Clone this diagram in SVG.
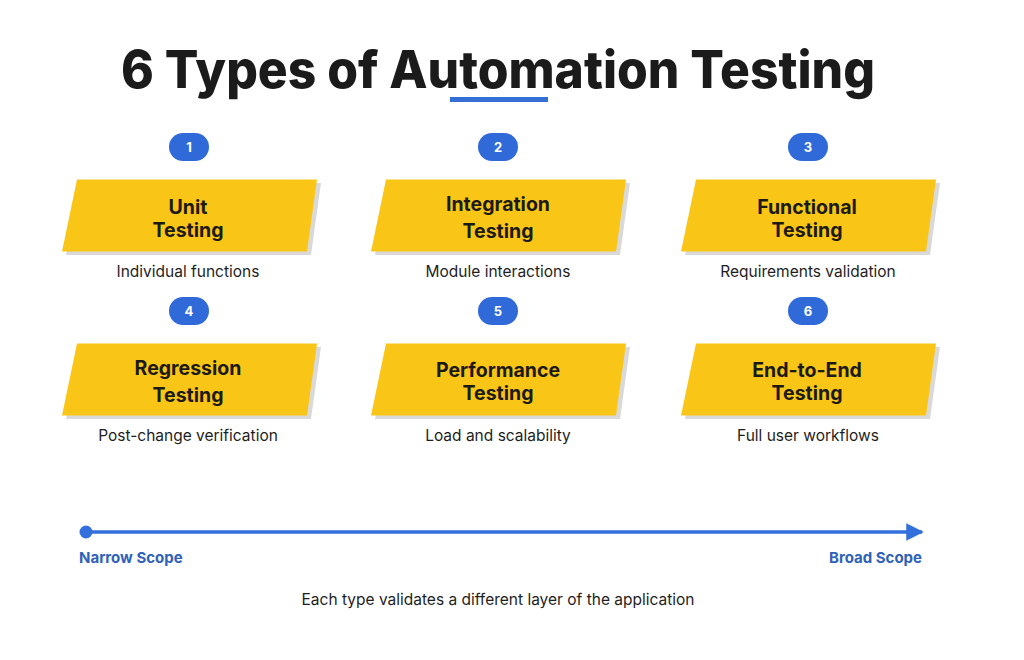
<svg xmlns="http://www.w3.org/2000/svg" width="1024" height="660" viewBox="0 0 1024 660">
  <style>
    .title { font-family: Inter, "Open Sans", "Liberation Sans", sans-serif; font-weight: 800; font-size: 52px; fill: #1b1b1b; }
    .badge { fill: #2f6ad8; }
    .num { font-family: Inter, "Liberation Sans", sans-serif; font-weight: 700; font-size: 13px; fill: #ffffff; text-anchor: middle; }
    .card { fill: #f9c516; }
    .shadow { fill: #d9d9d9; }
    .head { font-family: Inter, "Open Sans", "Liberation Sans", sans-serif; font-weight: 700; font-size: 19.5px; fill: #1c1a14; text-anchor: middle; }
    .desc { font-family: Inter, "Open Sans", "Liberation Sans", sans-serif; font-weight: 400; font-size: 15.5px; fill: #1e1e1e; text-anchor: middle; }
    .scope { font-family: Inter, "Open Sans", "Liberation Sans", sans-serif; font-weight: 700; font-size: 15px; fill: #2f62b8; }
    .foot { font-family: Inter, "Open Sans", "Liberation Sans", sans-serif; font-weight: 400; font-size: 15.5px; fill: #1e1e1e; text-anchor: middle; }
  </style>
  <defs>
    <!-- slanted card outline, origin at card's top-left corner -->
    <polygon id="cardShape" points="15,0 255,0 245,72 0,72"/>
    <marker id="arrowHead" viewBox="0 0 10 10" refX="9" refY="5" markerWidth="5" markerHeight="5" markerUnits="strokeWidth" orient="auto">
      <path d="M0,0 L10,5 L0,10 Z" fill="#3470dc"/>
    </marker>
  </defs>

  <rect width="1024" height="660" fill="#ffffff"/>

  <!-- heading -->
  <g id="title">
    <text class="title" x="121" y="88" textLength="754" lengthAdjust="spacingAndGlyphs">6 Types of Automation Testing</text>
    <rect x="450" y="97" width="98" height="5" fill="#3470d4"/>
  </g>

  <!-- row 1 -->
  <g id="node-unit">
    <rect class="badge" x="169" y="133" width="40" height="28" rx="14"/>
    <text class="num" x="189" y="152">1</text>
    <use href="#cardShape" x="66" y="183" class="shadow"/>
    <use href="#cardShape" x="62" y="179.5" class="card"/>
    <text class="head" x="188" y="214">Unit</text>
    <text class="head" x="188" y="237">Testing</text>
    <text class="desc" x="188" y="277">Individual functions</text>
  </g>

  <g id="node-integration">
    <rect class="badge" x="478" y="133" width="40" height="28" rx="14"/>
    <text class="num" x="498" y="152">2</text>
    <use href="#cardShape" x="375" y="183" class="shadow"/>
    <use href="#cardShape" x="371" y="179.5" class="card"/>
    <text class="head" x="498" y="211">Integration</text>
    <text class="head" x="498" y="238">Testing</text>
    <text class="desc" x="498" y="277">Module interactions</text>
  </g>

  <g id="node-functional">
    <rect class="badge" x="788" y="133" width="40" height="28" rx="14"/>
    <text class="num" x="808" y="152">3</text>
    <use href="#cardShape" x="685" y="183" class="shadow"/>
    <use href="#cardShape" x="681" y="179.5" class="card"/>
    <text class="head" x="807" y="214">Functional</text>
    <text class="head" x="807" y="237">Testing</text>
    <text class="desc" x="808" y="277">Requirements validation</text>
  </g>

  <!-- row 2 -->
  <g id="node-regression">
    <rect class="badge" x="169" y="297" width="40" height="28" rx="14"/>
    <text class="num" x="189" y="316">4</text>
    <use href="#cardShape" x="66" y="347" class="shadow"/>
    <use href="#cardShape" x="62" y="343.5" class="card"/>
    <text class="head" x="188" y="375">Regression</text>
    <text class="head" x="188" y="402">Testing</text>
    <text class="desc" x="188" y="441">Post-change verification</text>
  </g>

  <g id="node-performance">
    <rect class="badge" x="478" y="297" width="40" height="28" rx="14"/>
    <text class="num" x="498" y="316">5</text>
    <use href="#cardShape" x="375" y="347" class="shadow"/>
    <use href="#cardShape" x="371" y="343.5" class="card"/>
    <text class="head" x="498" y="377">Performance</text>
    <text class="head" x="498" y="400">Testing</text>
    <text class="desc" x="498" y="441">Load and scalability</text>
  </g>

  <g id="node-e2e">
    <rect class="badge" x="788" y="297" width="40" height="28" rx="14"/>
    <text class="num" x="808" y="316">6</text>
    <use href="#cardShape" x="685" y="347" class="shadow"/>
    <use href="#cardShape" x="681" y="343.5" class="card"/>
    <text class="head" x="807" y="377">End-to-End</text>
    <text class="head" x="807" y="400">Testing</text>
    <text class="desc" x="808" y="441">Full user workflows</text>
  </g>

  <!-- scope axis -->
  <g id="connectors">
    <circle cx="86" cy="532" r="6.5" fill="#3470dc"/>
    <line x1="86" y1="532" x2="922" y2="532" stroke="#3470dc" stroke-width="3.5" marker-end="url(#arrowHead)"/>
  </g>
  <text class="scope" x="79" y="563">Narrow Scope</text>
  <text class="scope" x="922" y="563" text-anchor="end">Broad Scope</text>

  <text class="foot" x="498" y="605">Each type validates a different layer of the application</text>
</svg>
